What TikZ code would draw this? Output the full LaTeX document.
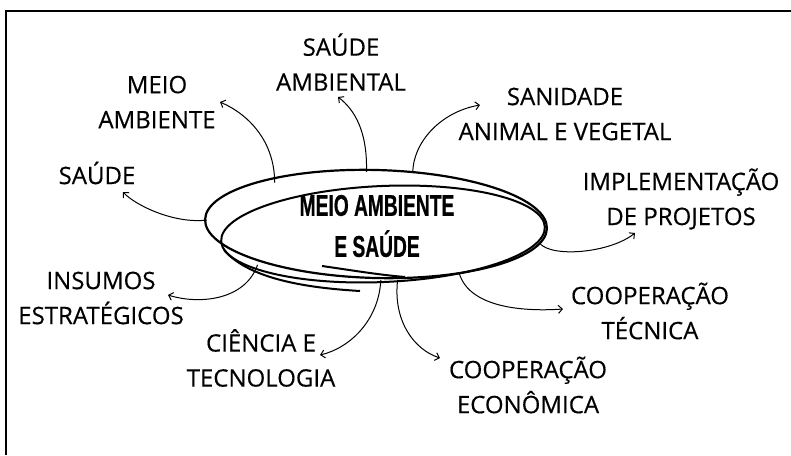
\documentclass[tikz,border=0pt]{standalone}
\usepackage{fontspec}
\setmainfont{Open Sans}[FakeBold=0.4]
\newfontfamily\hubfont[FakeStretch=0.64,FakeBold=0.6]{Liberation Sans}
\usetikzlibrary{arrows.meta,shapes.geometric}

\begin{document}
\begin{tikzpicture}
[x=1pt, y=-1pt,
every node/.style={align=center, inner sep=2pt},
topic/.style={font=\fontsize{24}{35}\selectfont},
link/.style={line width=1pt, -{Straight Barb[length=4pt,width=8pt]}}]
\useasboundingbox (0,0) rectangle (791,455);
\draw[line width=1.2pt] (6,455) -- (6,11) -- (791,11);

\node[ellipse, minimum width=342pt, minimum height=108pt,
      font=\hubfont\bfseries\fontsize{30}{41}\selectfont] (hub) at (377,226)
  {MEIO AMBIENTE\\E SAÚDE};
% the hand drawn loop round the centre
\draw[line width=2.2pt, rotate around={-1.5:(376,224)}]
  (376,224) ellipse [x radius=171pt, y radius=54pt];
\draw[line width=2pt, rotate around={2.5:(383,234)}]
  (383,234) ellipse [x radius=162pt, y radius=48pt];
\draw[line width=2pt] (224,250) .. controls (250,280) and (310,288) .. (360,291);
\draw[line width=2pt] (322,266) .. controls (350,270) and (380,275) .. (405,277);

\node[topic] (saudeamb) at (341,62) {SAÚDE\\AMBIENTAL};
\node[topic] (meioamb) at (157,102) {MEIO\\AMBIENTE};
\node[topic] (saude) at (97,173) {SAÚDE};
\node[topic] (sanidade) at (565,114) {SANIDADE\\ANIMAL E VEGETAL};
\node[topic] (implem) at (681,199) {IMPLEMENTAÇÃO\\DE PROJETOS};
\node[topic] (tecnica) at (650,311) {COOPERAÇÃO\\TÉCNICA};
\node[topic] (economica) at (528,385) {COOPERAÇÃO\\ECONÔMICA};
\node[topic] (ciencia) at (261,358) {CIÊNCIA E\\TECNOLOGIA};
\node[topic] (insumos) at (101,298) {INSUMOS\\ESTRATÉGICOS};

\draw[link] (hub.178) .. controls +(-33,4) and +(12,13) .. ([shift={(26,19)}]saude.center);
\draw[link] (hub.157) .. controls +(0,-40) and +(30,13) .. ([shift={(63,0)}]meioamb.center);
\draw[link] (hub.101) .. controls +(1,-40) and +(17,13) .. ([shift={(-3,35)}]saudeamb.center);
\draw[link] (hub.56) .. controls +(0,-30) and +(-40,7) .. ([shift={(-85,-9)}]sanidade.center);
\draw[link] (hub.-6) .. controls +(12,15) and +(-25,20) .. ([shift={(-46,34)}]implem.center);
\draw[link] (hub.-30) .. controls +(10,33) and +(-43,3) .. ([shift={(-87,-2)}]tecnica.center);
\draw[link] (hub.-69) .. controls +(-5,42) and +(-25,-8) .. ([shift={(-88,-27)}]economica.center);
\draw[link] (hub.-86) .. controls +(-2,40) and +(30,-7) .. ([shift={(59,-3)}]ciencia.center);
\draw[link] (hub.198) .. controls +(-12,35) and +(32,10) .. ([shift={(67,-3)}]insumos.center);
\end{tikzpicture}
\end{document}
